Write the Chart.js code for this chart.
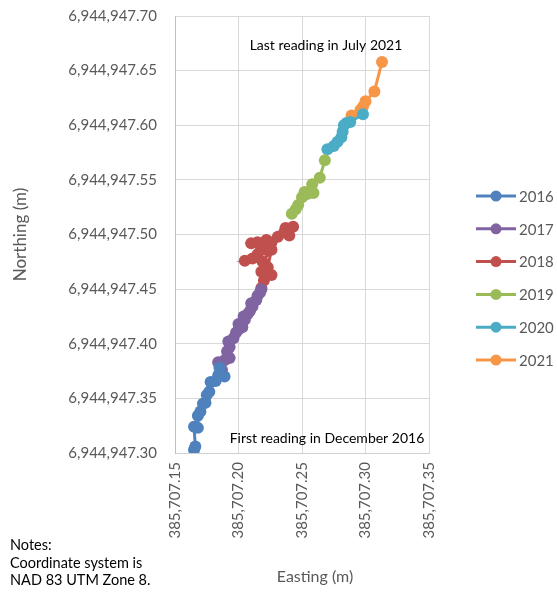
<!DOCTYPE html>
<html>
<head>
<meta charset="utf-8">
<script src="https://cdn.jsdelivr.net/npm/chart.js@4.4.1/dist/chart.umd.min.js"></script>
<style>
  html, body { margin: 0; padding: 0; background: #fff; }
  #wrap { width: 557px; height: 592px; }
</style>
</head>
<body>
<div id="wrap"><canvas id="chart" width="557" height="592"></canvas></div>
<script>
  // Tick values on each axis (metres, NAD 83 UTM Zone 8)
  var xTicks = [385707.15, 385707.20, 385707.25, 385707.30, 385707.35];
  var yTicks = [6944947.30, 6944947.35, 6944947.40, 6944947.45, 6944947.50,
                6944947.55, 6944947.60, 6944947.65, 6944947.70];

  var years = ["2016", "2017", "2018", "2019", "2020", "2021"];

  // Easting / northing readings per year
  var east2016 = [385707.165, 385707.166, 385707.165, 385707.168, 385707.168, 385707.170,
                  385707.172, 385707.174, 385707.175, 385707.177, 385707.178, 385707.182,
                  385707.184, 385707.189, 385707.185];
  var north2016 = [6944947.303, 6944947.306, 6944947.324, 6944947.323, 6944947.334, 6944947.338,
                   6944947.345, 6944947.346, 6944947.353, 6944947.356, 6944947.365, 6944947.366,
                   6944947.371, 6944947.370, 6944947.378];

  var east2017 = [385707.185, 385707.187, 385707.184, 385707.189, 385707.193, 385707.191,
                  385707.193, 385707.192, 385707.196, 385707.198, 385707.200, 385707.203,
                  385707.200, 385707.205, 385707.204, 385707.207, 385707.209, 385707.211,
                  385707.210, 385707.214, 385707.215, 385707.217, 385707.218];
  var north2017 = [6944947.371, 6944947.376, 6944947.383, 6944947.385, 6944947.387, 6944947.393,
                   6944947.397, 6944947.402, 6944947.405, 6944947.410, 6944947.413, 6944947.415,
                   6944947.418, 6944947.422, 6944947.425, 6944947.427, 6944947.430, 6944947.434,
                   6944947.437, 6944947.440, 6944947.444, 6944947.447, 6944947.450];

  var east2018 = [385707.218, 385707.220, 385707.226, 385707.218, 385707.223, 385707.226,
                  385707.219, 385707.205, 385707.211, 385707.215, 385707.221, 385707.217,
                  385707.210, 385707.215, 385707.222, 385707.226, 385707.231, 385707.236,
                  385707.240, 385707.237, 385707.243];
  var north2018 = [6944947.451, 6944947.458, 6944947.463, 6944947.466, 6944947.470, 6944947.486,
                   6944947.475, 6944947.476, 6944947.478, 6944947.482, 6944947.486, 6944947.490,
                   6944947.492, 6944947.493, 6944947.495, 6944947.493, 6944947.498, 6944947.502,
                   6944947.499, 6944947.506, 6944947.507];

  var east2019 = [385707.242, 385707.245, 385707.247, 385707.250, 385707.254, 385707.252,
                  385707.259, 385707.258, 385707.264, 385707.268];
  var north2019 = [6944947.519, 6944947.523, 6944947.527, 6944947.534, 6944947.537, 6944947.539,
                   6944947.538, 6944947.546, 6944947.552, 6944947.568];

  var east2020 = [385707.270, 385707.275, 385707.278, 385707.281, 385707.282, 385707.283,
                  385707.285, 385707.288, 385707.298];
  var north2020 = [6944947.578, 6944947.581, 6944947.585, 6944947.589, 6944947.594, 6944947.600,
                   6944947.602, 6944947.603, 6944947.610];

  var east2021 = [385707.289, 385707.296, 385707.298, 385707.300, 385707.307, 385707.313];
  var north2021 = [6944947.609, 6944947.614, 6944947.617, 6944947.622, 6944947.631, 6944947.658];

  var eastings = [east2016, east2017, east2018, east2019, east2020, east2021];
  var northings = [north2016, north2017, north2018, north2019, north2020, north2021];
  var colors = ["#4F81BD", "#8064A2", "#C0504D", "#9BBB59", "#4BACC6", "#F79646"];

  var FONT = "Lato, 'Open Sans', sans-serif";
  var GREY = "#595959";

  function fmt(v) {
    return Number(v).toLocaleString("en-US", { minimumFractionDigits: 2, maximumFractionDigits: 2 });
  }

  var datasets = years.map(function (year, i) {
    return {
      label: year,
      data: eastings[i].map(function (x, j) { return { x: x, y: northings[i][j] }; }),
      showLine: true,
      borderColor: colors[i],
      backgroundColor: colors[i],
      borderWidth: 3,
      pointRadius: 6,
      pointBorderWidth: 0,
      pointHoverRadius: 6,
    };
  });

  // Line-and-marker legend on the right, plus the text notes.
  var extras = {
    id: "extras",
    afterDraw: function (chart) {
      var ctx = chart.ctx;
      ctx.save();
      years.forEach(function (year, i) {
        var y = 196 + i * 32.8;
        ctx.strokeStyle = colors[i];
        ctx.lineWidth = 3;
        ctx.beginPath();
        ctx.moveTo(476, y);
        ctx.lineTo(516, y);
        ctx.stroke();
        ctx.fillStyle = colors[i];
        ctx.beginPath();
        ctx.arc(496, y, 5.5, 0, Math.PI * 2);
        ctx.fill();
        ctx.fillStyle = GREY;
        ctx.font = "15px " + FONT;
        ctx.textAlign = "left";
        ctx.textBaseline = "middle";
        ctx.fillText(year, 519, y + 1);
      });

      ctx.fillStyle = "#000";
      ctx.font = "14px " + FONT;
      ctx.textAlign = "center";
      ctx.textBaseline = "middle";
      ctx.fillText("Last reading in July 2021", 326, 45);
      ctx.fillText("First reading in December 2016", 327, 438);

      ctx.font = "14.5px " + FONT;
      ctx.textAlign = "left";
      ctx.fillText("Notes:", 10, 545);
      ctx.fillText("Coordinate system is", 10, 563);
      ctx.fillText("NAD 83 UTM Zone 8.", 10, 580);

      ctx.fillStyle = GREY;
      ctx.font = "16px " + FONT;
      ctx.textAlign = "center";
      ctx.fillText("Easting (m)", 315, 577);
      ctx.restore();
    },
  };

  new Chart(document.getElementById("chart"), {
    type: "scatter",
    data: { datasets: datasets },
    plugins: [extras],
    options: {
      responsive: false,
      animation: false,
      devicePixelRatio: 1,
      layout: { autoPadding: false, padding: { left: 0, right: 128, top: 16, bottom: 0 } },
      plugins: { legend: { display: false }, tooltip: { enabled: false } },
      scales: {
        x: {
          type: "linear",
          min: xTicks[0],
          max: xTicks[xTicks.length - 1],
          afterBuildTicks: function (s) { s.ticks = xTicks.map(function (v) { return { value: v }; }); },
          afterFit: function (s) { s.height = 139; s.paddingLeft = 0; s.paddingRight = 0; },
          grid: { color: "#d9d9d9", drawTicks: false },
          border: { color: "#d0d0d0" },
          ticks: {
            minRotation: 90, maxRotation: 90, padding: 9,
            color: GREY, font: { family: FONT, size: 15 },
            callback: function (v) { return fmt(v); },
          },
        },
        y: {
          type: "linear",
          min: yTicks[0],
          max: yTicks[yTicks.length - 1],
          afterBuildTicks: function (s) { s.ticks = yTicks.map(function (v) { return { value: v }; }); },
          afterFit: function (s) { s.width = 175; s.paddingTop = 0; s.paddingBottom = 0; },
          grid: { color: "#d9d9d9", drawTicks: false },
          border: { color: "#bfbfbf" },
          ticks: {
            padding: 18, color: GREY, font: { family: FONT, size: 15 },
            callback: function (v) { return fmt(v); },
          },
          title: {
            display: true, text: "Northing (m)", color: GREY,
            font: { family: FONT, size: 17 }, padding: { top: 10, bottom: 0 },
          },
        },
      },
    },
  });
</script>
</body>
</html>
